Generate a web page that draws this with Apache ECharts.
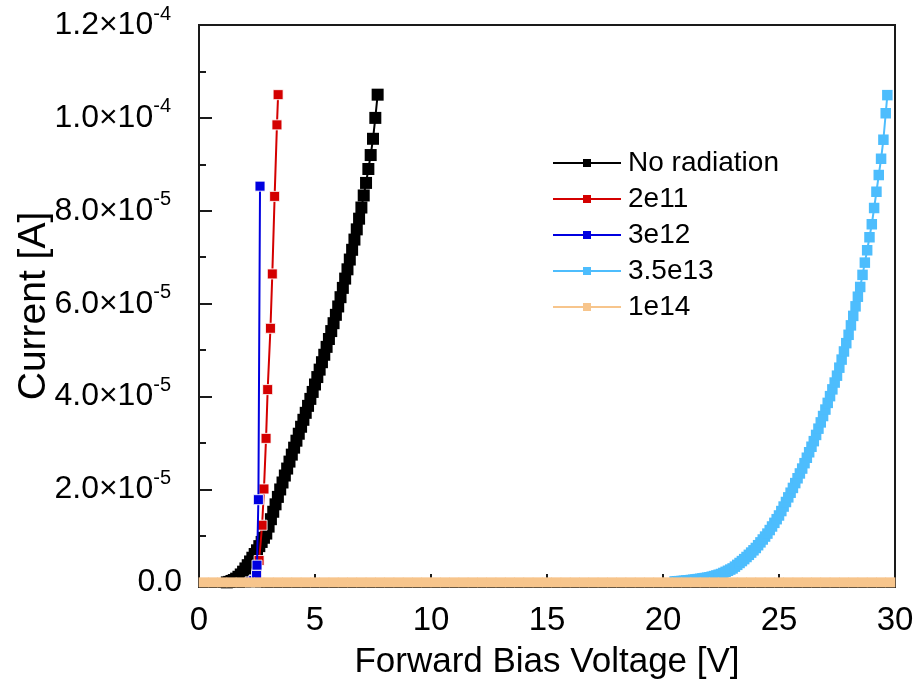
<!DOCTYPE html>
<html><head><meta charset="utf-8">
<script src="https://cdn.jsdelivr.net/npm/echarts@6/dist/echarts.min.js"></script>
<style>html,body{margin:0;padding:0;background:#fff}#c{width:917px;height:697px}</style>
</head><body><div id="c"></div>
<script>
// Current values are in µA (1e-6 A); axis labels show amperes.
const yTickValues = [0, 20, 40, 60, 80, 100, 120];
const yMinorValues = [10, 30, 50, 70, 90, 110];
const xTickLabels = ['0', '5', '10', '15', '20', '25', '30'];
const seriesNames = ['No radiation', '2e11', '3e12', '3.5e13', '1e14'];

const vNoRad = [1.2,1.3,1.4,1.5,1.6,1.7,1.8,1.9,2.0,2.1,2.2,2.3,2.4,2.5,2.6,2.7,2.8,2.9,3.0,3.1,3.2,3.3,3.4,3.5,3.6,3.7,3.8,3.9,4.0,4.1,4.2,4.3,4.4,4.5,4.6,4.7,4.8,4.9,5.0,5.1,5.2,5.3,5.4,5.5,5.6,5.7,5.8,5.9,6.0,6.1,6.2,6.3,6.4,6.5,6.6,6.7,6.8,6.9,7.0,7.1,7.2,7.3,7.4,7.5,7.6,7.7];
const iNoRad = [0.0,0.1,0.3,0.5,0.8,1.2,1.7,2.3,3.0,3.7,4.5,5.3,6.1,6.9,7.8,8.7,9.6,10.5,12.0,13.6,15.2,16.8,18.4,20.0,21.5,23.0,24.5,26.0,27.5,29.0,30.5,32.0,33.5,35.0,36.5,38.0,39.5,41.0,42.6,44.2,45.8,47.4,49.0,50.7,52.4,54.1,55.8,57.6,59.4,61.4,63.4,65.4,67.4,69.5,71.6,73.8,76.0,78.3,80.7,83.3,86.0,89.0,92.0,95.5,100.0,105.0];

const v2e11 = [2.46,2.50,2.59,2.72,2.80,2.89,2.96,3.08,3.16,3.26,3.36,3.41];
const i2e11 = [0.1,1.9,4.7,12.3,20.1,31.0,41.5,54.7,66.4,83.1,98.5,105.0];

const v3e12 = [2.20,2.36,2.48,2.50,2.56,2.63];
const i3e12 = [0.1,0.4,1.5,3.7,17.8,85.3];

const v35e13 = [20.5,20.6,20.7,20.8,20.9,21.0,21.1,21.2,21.3,21.4,21.5,21.6,21.7,21.8,21.9,22.0,22.1,22.2,22.3,22.4,22.5,22.6,22.7,22.8,22.9,23.0,23.1,23.2,23.3,23.4,23.5,23.6,23.7,23.8,23.9,24.0,24.1,24.2,24.3,24.4,24.5,24.6,24.7,24.8,24.9,25.0,25.1,25.2,25.3,25.4,25.5,25.6,25.7,25.8,25.9,26.0,26.1,26.2,26.3,26.4,26.5,26.6,26.7,26.8,26.9,27.0,27.1,27.2,27.3,27.4,27.5,27.6,27.7,27.8,27.9,28.0,28.1,28.2,28.3,28.4,28.5,28.6,28.7,28.8,28.9,29.0,29.1,29.2,29.3,29.4,29.5,29.6,29.67];
const i35e13 = [0.20,0.23,0.26,0.30,0.34,0.40,0.45,0.51,0.57,0.63,0.70,0.77,0.85,0.93,1.01,1.10,1.22,1.35,1.49,1.64,1.80,2.02,2.26,2.50,2.75,3.00,3.38,3.77,4.17,4.58,5.00,5.46,5.93,6.41,6.90,7.40,8.00,8.61,9.23,9.86,10.50,11.26,12.03,12.81,13.60,14.40,15.35,16.32,17.30,18.30,19.30,20.33,21.37,22.41,23.45,24.50,25.66,26.83,28.01,29.20,30.40,31.74,33.09,34.44,35.81,37.20,38.64,40.09,41.55,43.02,44.50,46.22,47.96,49.71,51.50,53.30,55.33,57.37,59.43,61.50,63.60,66.20,68.84,71.50,74.30,77.10,80.60,84.10,87.70,91.20,95.30,101.0,104.9];

const v1e14 = [0.2,0.6,1.0,1.4,1.8,2.2,2.6,3.0,3.4,3.8,4.2,4.6,5.0,5.4,5.8,6.2,6.6,7.0,7.4,7.8,8.2,8.6,9.0,9.4,9.8,10.2,10.6,11.0,11.4,11.8,12.2,12.6,13.0,13.4,13.8,14.2,14.6,15.0,15.4,15.8,16.2,16.6,17.0,17.4,17.8,18.2,18.6,19.0,19.4,19.8,20.2,20.6,21.0,21.4,21.8,22.2,22.6,23.0,23.4,23.8,24.2,24.6,25.0,25.4,25.8,26.2,26.6,27.0,27.4,27.8,28.2,28.6,29.0,29.4,29.8];
const i1e14 = [0,0,0,0,0,0,0,0,0,0,0,0,0,0,0,0,0,0,0,0,0,0,0,0,0,0,0,0,0,0,0,0,0,0,0,0,0,0,0,0,0,0,0,0,0,0,0,0,0,0,0,0,0,0,0,0,0,0,0,0,0,0,0,0,0,0,0,0,0,0,0,0,0,0,0];

const colors = ['#000000', '#d40000', '#0000e0', '#4dbdfd', '#f7c58c'];
const FONT = '"Liberation Sans", Arial, sans-serif';
const AX = '#1a1a1a';

function pairs(v, i) { return v.map((x, k) => [x, i[k]]); }

function yLabel(v) {
  if (v === 0) return '{m|0.0}';
  if (v < 100) return '{m|' + (v / 10).toFixed(1) + '×10}{s|-5}';
  return '{m|' + (v / 100).toFixed(1) + '×10}{s|-4}';
}

function mkSeries(idx, v, i, size, border) {
  return {
    name: seriesNames[idx], type: 'line', data: pairs(v, i),
    symbol: 'rect', symbolSize: size,
    lineStyle: { color: colors[idx], width: 2 },
    itemStyle: { color: colors[idx], borderColor: border ? 'rgba(255,255,255,0.85)' : colors[idx], borderWidth: border ? 1 : 0 },
    emphasis: { disabled: true }, z: 2 + idx
  };
}

const chart = echarts.init(document.getElementById('c'), null, { renderer: 'canvas' });
chart.setOption({
  animation: false,
  grid: { left: 199, top: 25, width: 696, height: 562, outerBoundsMode: 'none', containLabel: false,
    show: true, borderColor: AX, borderWidth: 2, backgroundColor: 'transparent' },
  legend: {
    orient: 'vertical', left: 552, top: 149, padding: 0, itemWidth: 68, itemHeight: 10, itemGap: 8,
    itemStyle: { borderWidth: 0 },
    textStyle: { fontSize: 28, fontFamily: FONT, color: '#000', padding: [0, 0, 0, 2] },
    data: seriesNames
  },
  xAxis: {
    type: 'value', min: 0, max: 30, interval: 5,
    axisLine: { onZero: false, lineStyle: { color: AX, width: 2 } },
    axisTick: { inside: true, length: 13, lineStyle: { color: AX, width: 2 } },
    minorTick: { show: true, splitNumber: 2, length: 7, lineStyle: { color: AX, width: 2 } },
    splitLine: { show: false },
    axisLabel: { fontSize: 33, fontFamily: FONT, color: '#000', margin: 17,
      formatter: v => xTickLabels[Math.round(v / 5)] },
    name: 'Forward Bias Voltage [V]', nameLocation: 'middle', nameGap: 58, nameMoveOverlap: false,
    nameTextStyle: { fontSize: 35, fontFamily: FONT, color: '#000' }
  },
  yAxis: [{
    type: 'value', min: -1, max: 120,
    axisLine: { show: true, onZero: false, lineStyle: { color: AX, width: 2 } },
    axisTick: { show: true, inside: true, length: 13, customValues: yTickValues, lineStyle: { color: AX, width: 2 } },
    splitLine: { show: false },
    axisLabel: { customValues: yTickValues, margin: 17, formatter: yLabel,
      rich: {
        m: { fontSize: 32, fontFamily: FONT, color: '#000' },
        s: { fontSize: 20, fontFamily: FONT, color: '#000', padding: [0, 11, 22, 0] }
      } },
    name: 'Current [A]', nameLocation: 'middle', nameGap: 145, nameMoveOverlap: false,
    nameTextStyle: { fontSize: 39, fontFamily: FONT, color: '#000' }
  }, {
    type: 'value', min: -1, max: 120, position: 'left', offset: 0,
    axisLine: { show: false },
    axisTick: { show: true, inside: true, length: 7, customValues: yMinorValues, lineStyle: { color: AX, width: 2 } },
    axisLabel: { show: false }, splitLine: { show: false }
  }],
  series: [
    mkSeries(0, vNoRad, iNoRad, 12, false),
    mkSeries(1, v2e11, i2e11, 10, true),
    mkSeries(2, v3e12, i3e12, 10, true),
    mkSeries(3, v35e13, i35e13, 10.5, false),
    mkSeries(4, v1e14, i1e14, 10, false)
  ]
});
</script></body></html>
